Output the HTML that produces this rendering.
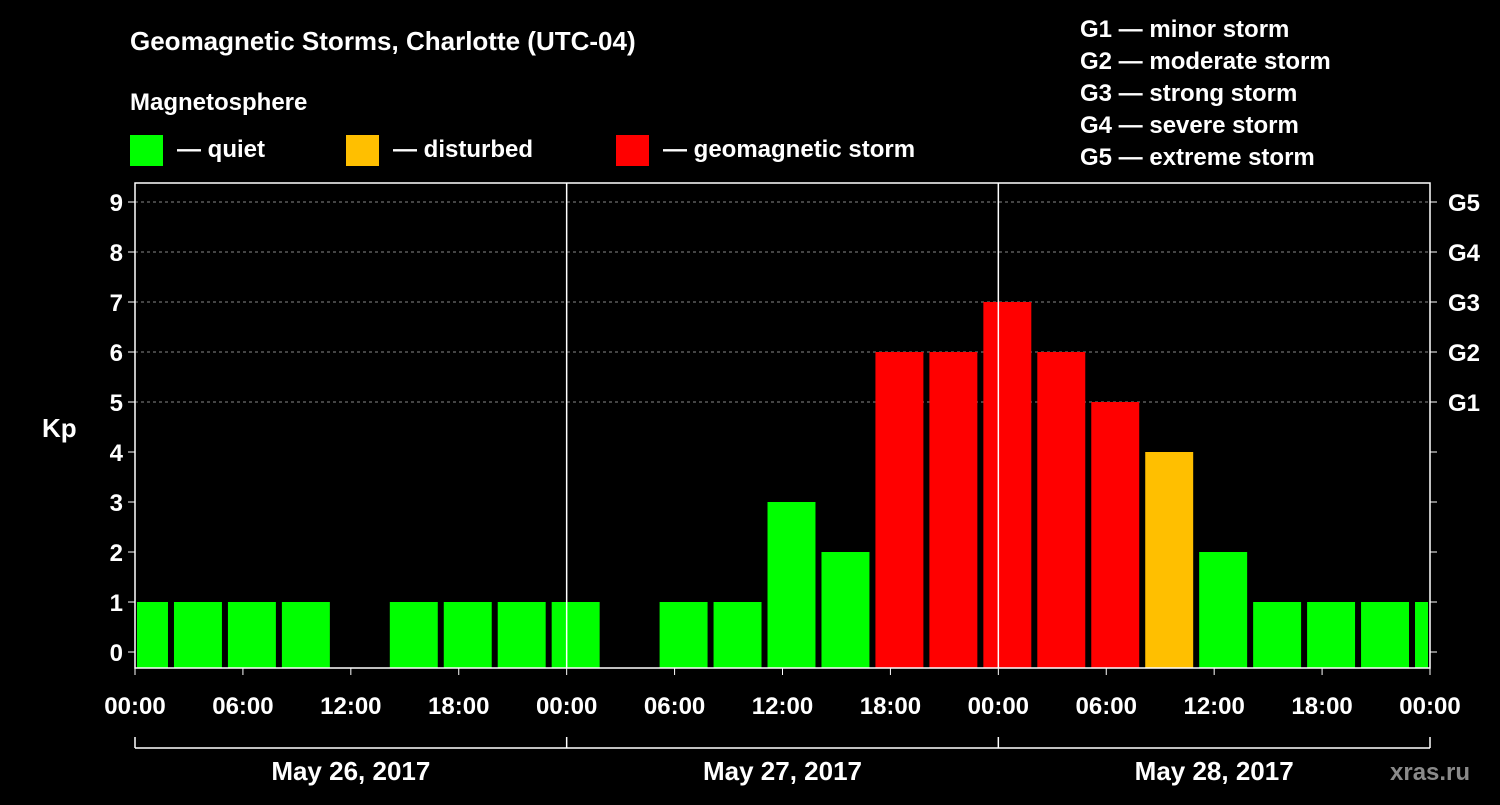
<!DOCTYPE html>
<html><head><meta charset="utf-8"><style>
body{margin:0;background:#000;width:1500px;height:800px;overflow:hidden}
svg text{font-family:"Liberation Sans",sans-serif;font-weight:bold;fill:#fff}
</style></head><body>
<svg id="c" width="1500" height="800">
<text x="130" y="50" font-size="26">Geomagnetic Storms, Charlotte (UTC-04)</text>
<text x="130" y="110" font-size="24">Magnetosphere</text>
<g><rect x="130" y="135" width="33" height="31" fill="#00ff00"/><text x="177" y="157" font-size="24">— quiet</text></g>
<g><rect x="346" y="135" width="33" height="31" fill="#ffbf00"/><text x="393" y="157" font-size="24">— disturbed</text></g>
<g><rect x="616" y="135" width="33" height="31" fill="#ff0000"/><text x="663" y="157" font-size="24">— geomagnetic storm</text></g>
<g font-size="24">
<text x="1080" y="37">G1 — minor storm</text><text x="1080" y="69">G2 — moderate storm</text><text x="1080" y="101">G3 — strong storm</text><text x="1080" y="133">G4 — severe storm</text><text x="1080" y="165">G5 — extreme storm</text></g>
<text x="42" y="437" font-size="26">Kp</text>
<text x="1390" y="780" font-size="24" fill="#888" style="fill:#8a8a8a">xras.ru</text>
<g id="plot"></g>
</svg>
<script>
const kpValues=[1,1,1,1,0,1,1,1,1,0,1,1,3,2,6,6,7,6,5,4,2,1,1,1,1];
const yTicks=[0,1,2,3,4,5,6,7,8,9];
const gLabels=["G1","G2","G3","G4","G5"];
const xTickLabels=["00:00","06:00","12:00","18:00","00:00","06:00","12:00","18:00","00:00","06:00","12:00","18:00","00:00"];
const dayLabels=["May 26, 2017","May 27, 2017","May 28, 2017"];
const NS="http://www.w3.org/2000/svg";
const L=135,R=1430,T=183,B=668;
const hx=h=>L+h*(R-L)/72;
const ky=v=>652-v*50;
const g=document.getElementById('plot');
function mk(t,a,p){const e=document.createElementNS(NS,t);for(const k in a)e.setAttribute(k,a[k]);(p||g).appendChild(e);return e;}
// grid
yTicks.forEach(v=>{if(v>=5){const l=mk('line',{x1:L,x2:R,y1:ky(v),y2:ky(v),stroke:'#888','stroke-dasharray':'3,3'});

}});
// bars
kpValues.forEach((v,i)=>{if(v<=0)return;
let s=hx(2+3*(i-1))+3,e=s+48*(R-L)/1296;s=Math.max(s,L+2);e=Math.min(e,R-2);
const col=v>=5?'#ff0000':(v>=4?'#ffbf00':'#00ff00');
const r=mk('rect',{x:s,y:ky(v),width:e-s,height:B-ky(v),fill:col});

});
// day separators
[24,48].forEach(h=>mk('line',{x1:hx(h),x2:hx(h),y1:T,y2:B,stroke:'#fff','stroke-width':1.5}));
const fr=mk('rect',{x:L,y:T,width:R-L,height:B-T,fill:'none',stroke:'#fff','stroke-width':1.5});


// y ticks
yTicks.forEach(v=>{const y=ky(v);
mk('line',{x1:L-7,x2:L,y1:y,y2:y,stroke:'#fff'});mk('line',{x1:R,x2:R+7,y1:y,y2:y,stroke:'#fff'});
const t=mk('text',{x:L-12,y:y+9,'font-size':24,'text-anchor':'end'});t.textContent=v;


if(v>=5){const r=mk('text',{x:R+18,y:y+9,'font-size':24});r.textContent=gLabels[v-5];

}});
// x ticks
xTickLabels.forEach((lab,i)=>{const x=hx(i*6);mk('line',{x1:x,x2:x,y1:B,y2:B+7,stroke:'#fff'});
const t=mk('text',{x:x,y:714,'font-size':24,'text-anchor':'middle'});t.textContent=lab;

});
// day bracket
mk('line',{x1:L,x2:R,y1:748,y2:748,stroke:'#fff','stroke-width':1.5});
[0,24,48,72].forEach(h=>mk('line',{x1:hx(h),x2:hx(h),y1:737,y2:748,stroke:'#fff','stroke-width':1.5}));
dayLabels.forEach((d,i)=>{const t=mk('text',{x:hx(i*24+12),y:780,'font-size':26,'text-anchor':'middle'});t.textContent=d;

});
</script>
</body></html>
